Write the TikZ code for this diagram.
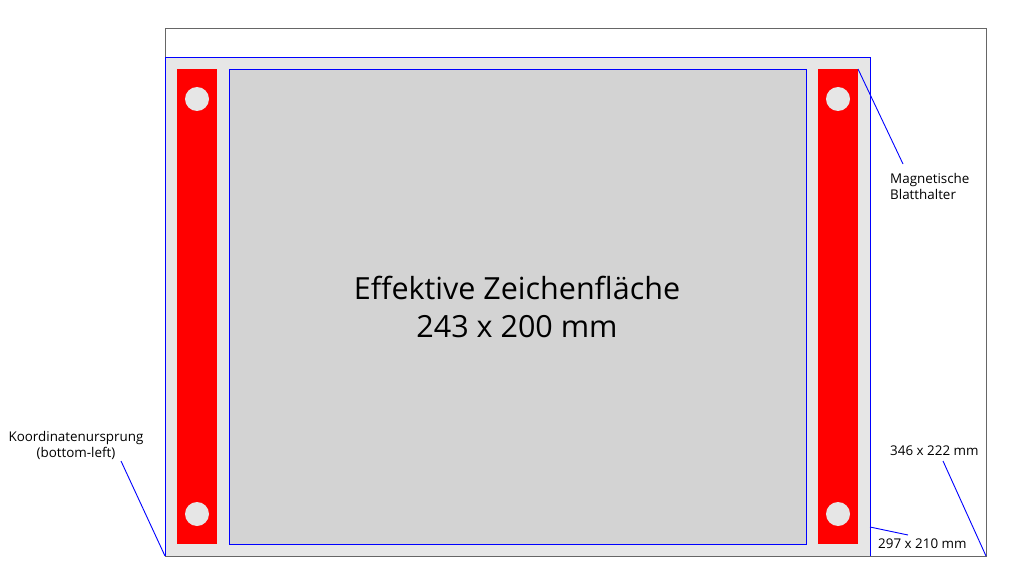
\documentclass[tikz,border=0pt]{standalone}
\usepackage{fontspec}
\setmainfont{Open Sans}
\usetikzlibrary{positioning}

\definecolor{plate}{HTML}{E6E6E6}
\definecolor{paper}{HTML}{D3D3D3}
\definecolor{frame}{HTML}{666666}

\begin{document}
\begin{tikzpicture}[x=1pt,y=-1pt,
	lead/.style={draw=blue,line width=0.9pt},
	holder/.style={fill=red,draw=none},
	magnet/.style={circle,fill=plate,minimum size=24pt,inner sep=0pt},
	label/.style={font=\fontsize{13.4}{16}\selectfont,inner sep=0pt}]

\useasboundingbox (0,0) rectangle (1030,580);

% machine area and base plate
\draw[frame,line width=1pt] (165,29) rectangle (986,556);
\draw[fill=plate,draw=blue,line width=0.9pt] (165,57) rectangle (870,556);
\draw[frame,line width=1pt] (165,556) -- (986,556);

% magnetic holders
\fill[holder] (177,69) rectangle (217,544);
\fill[holder] (818,69) rectangle (858,544);
\node[magnet] (m1) at (197,99)  {};
\node[magnet] (m2) at (197,514) {};
\node[magnet] (m3) at (838,99)  {};
\node[magnet] (m4) at (838,514) {};

% effective area
\draw[fill=paper,draw=blue,line width=0.9pt] (229,69) rectangle (806,544);
\node[align=center,font=\fontsize{30.5}{38}\selectfont] (area) at (517,307)
	{Effektive Zeichenfläche\\243 x 200 mm};

% corners
\coordinate (holdtop) at (858,69);
\coordinate (origin)  at (165,556);
\coordinate (platebr) at (870,527);
\coordinate (framebr) at (986,556);

% labels
\node[label,align=left,anchor=west]  (holdtxt) at (890,186) {Magnetische\\Blatthalter};
\node[label,align=center] (origtxt) at (76,445) {Koordinatenursprung\\(bottom-left)};
\node[label,anchor=west] (frametxt) at (890,451) {346 x 222 mm};
\node[label,anchor=west] (platetxt) at (878,544) {297 x 210 mm};

\coordinate (holdend)  at (903,164);
\coordinate (origend)  at (121,461);
\coordinate (frameend) at (943,461);
\coordinate (plateend) at (908,535);

\draw[lead] (holdtop) -- (holdend);
\draw[lead] (origin)  -- (origend);
\draw[lead] (framebr) -- (frameend);
\draw[lead] (platebr) -- (plateend);

\end{tikzpicture}
\end{document}
